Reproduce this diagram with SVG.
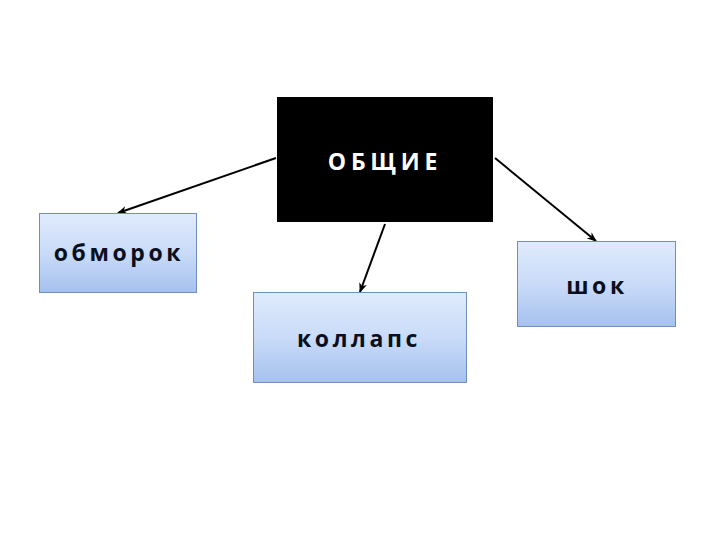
<svg xmlns="http://www.w3.org/2000/svg" width="720" height="540" viewBox="0 0 720 540">
<defs>
<linearGradient id="g" x1="0" y1="0" x2="0" y2="1">
<stop offset="0" stop-color="#e0ebfc"/>
<stop offset="0.5" stop-color="#c9dbf8"/>
<stop offset="1" stop-color="#a6c1ef"/>
</linearGradient>
<marker id="arr" markerWidth="10" markerHeight="8" refX="9" refY="4" orient="auto" markerUnits="userSpaceOnUse">
<path d="M0,0 L10,4 L0,8 L3,4 Z" fill="#000"/>
</marker>
<style>
.box{fill:url(#g);stroke:#6f8fc0;stroke-width:1}
.lbl{font-family:"Open Sans","DejaVu Sans",sans-serif;font-weight:bold;font-size:23px;letter-spacing:3.6px;fill:#0a0f1e;text-anchor:middle}
.conn{stroke:#000;stroke-width:2;fill:none;marker-end:url(#arr)}
</style>
</defs>
<rect width="720" height="540" fill="#fff"/>
<g id="connectors">
<line class="conn" x1="276" y1="158" x2="118" y2="213"/>
<line class="conn" x1="385" y1="224" x2="360" y2="292"/>
<line class="conn" x1="495" y1="158" x2="596" y2="241"/>
</g>
<g id="obshchie">
<rect x="277" y="97" width="216" height="125" fill="#000"/>
<text class="lbl" x="385" y="170" style="fill:#fff;letter-spacing:4.8px">ОБЩИЕ</text>
</g>
<g id="obmorok">
<rect class="box" x="39.5" y="213.5" width="157" height="79"/>
<text class="lbl" x="119" y="261">обморок</text>
</g>
<g id="shok">
<rect class="box" x="517.5" y="241.5" width="158" height="85"/>
<text class="lbl" x="597" y="294">шок</text>
</g>
<g id="kollaps">
<rect class="box" x="253.5" y="292.5" width="213" height="90"/>
<text class="lbl" x="359" y="347">коллапс</text>
</g>
</svg>
